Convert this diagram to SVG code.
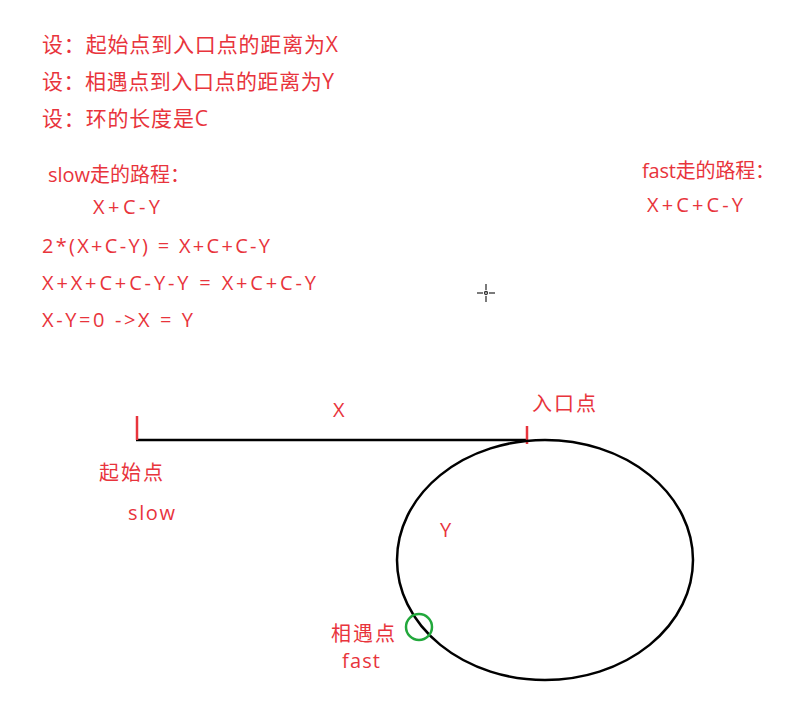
<svg xmlns="http://www.w3.org/2000/svg" width="793" height="703" viewBox="0 0 793 703">
<style>
.t{fill:#e8343c;font-family:"Open Sans","Noto Sans CJK SC",sans-serif;font-size:21px}
.s{font-size:20px}
.k{stroke:#000;stroke-width:2.5;fill:none}
.r{stroke:#e8343c;stroke-width:2.5}
</style>
<rect width="793" height="703" fill="#fff"/>
<g id="notes">
<text class="t" x="42" y="52" textLength="296">设：起始点到入口点的距离为X</text>
<text class="t" x="42" y="89" textLength="292">设：相遇点到入口点的距离为Y</text>
<text class="t" x="42" y="126" textLength="166">设：环的长度是C</text>
<text class="t s" x="48" y="182" textLength="142">slow走的路程：</text>
<text class="t s" x="93" y="214" textLength="67">X+C-Y</text>
<text class="t s" x="42" y="253" textLength="228">2*(X+C-Y) = X+C+C-Y</text>
<text class="t s" x="42" y="290" textLength="274">X+X+C+C-Y-Y = X+C+C-Y</text>
<text class="t s" x="42" y="327" textLength="151">X-Y=0 -&gt;X = Y</text>
<text class="t s" x="642" y="178" textLength="133">fast走的路程：</text>
<text class="t s" x="647" y="212" textLength="96">X+C+C-Y</text>
</g>
<g id="cursor" stroke="#333" stroke-width="1.3" fill="none">
<line x1="477" y1="293" x2="483" y2="293"/><line x1="489" y1="293" x2="495" y2="293"/>
<line x1="486" y1="284" x2="486" y2="290"/><line x1="486" y1="296" x2="486" y2="302"/>
<circle cx="486" cy="293" r="1.5"/>
</g>
<g id="connectors">
<line class="k" x1="136" y1="440" x2="528" y2="440"/>
</g>
<g id="start">
<line class="r" x1="137" y1="416" x2="137" y2="440"/>
<text class="t s" x="99" y="480" textLength="64">起始点</text>
<text class="t s" x="128" y="520" textLength="47">slow</text>
</g>
<g id="label-x"><text class="t s" x="333" y="417">X</text></g>
<g id="entry">
<line class="r" x1="527" y1="426" x2="527" y2="444"/>
<text class="t s" x="532" y="411" textLength="64">入口点</text>
</g>
<g id="loop">
<ellipse class="k" cx="545" cy="560" rx="148" ry="120"/>
<text class="t s" x="440" y="537">Y</text>
</g>
<g id="meet">
<circle cx="419" cy="627" r="13" fill="none" stroke="#22a83c" stroke-width="2.5"/>
<text class="t s" x="331" y="641" textLength="64">相遇点</text>
<text class="t s" x="342" y="668" textLength="38">fast</text>
</g>
</svg>
